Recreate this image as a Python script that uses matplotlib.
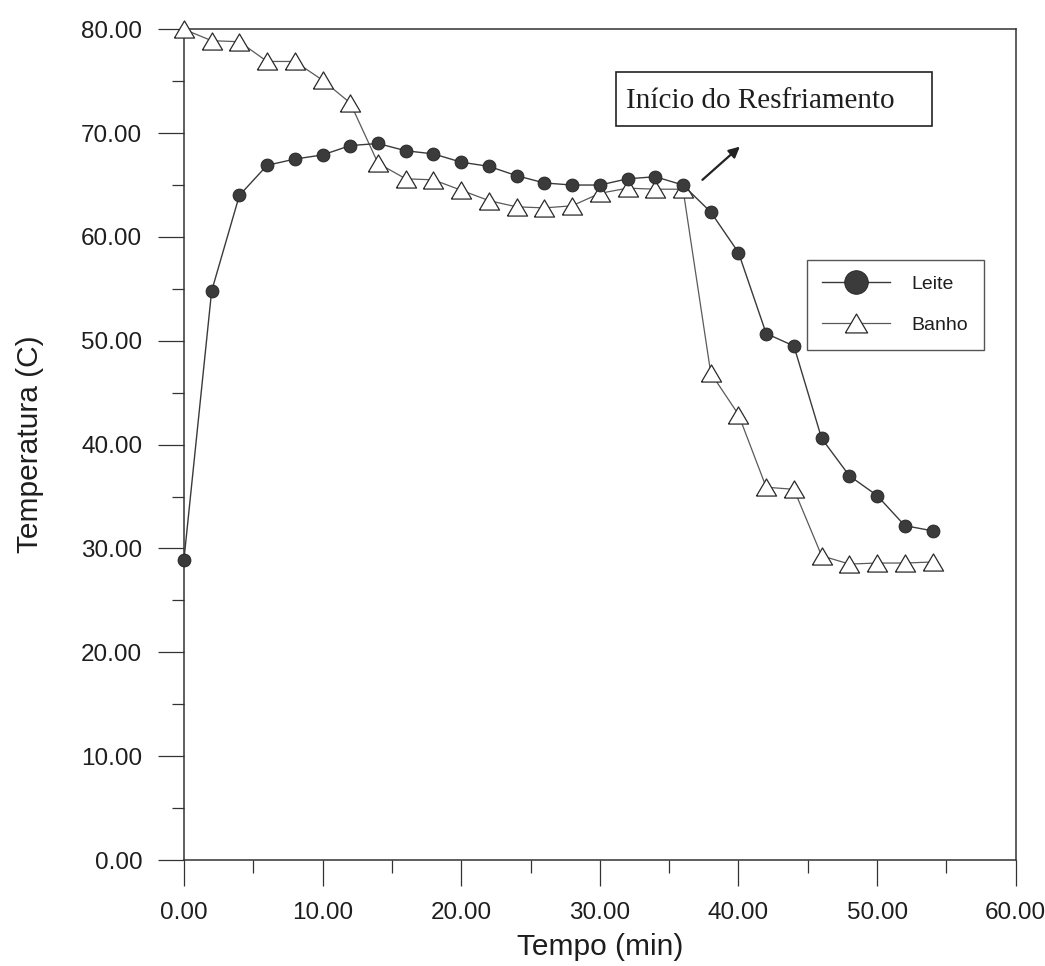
import matplotlib
matplotlib.use("Agg")
import matplotlib.pyplot as plt
from matplotlib.patches import Rectangle
from matplotlib.ticker import MultipleLocator, FormatStrFormatter

plt.rcParams['font.family'] = ['Liberation Sans', 'DejaVu Sans']

# Time (min) and temperatures (C) for the milk and the water bath
tempo_leite = [0, 2, 4, 6, 8, 10, 12, 14, 16, 18, 20, 22, 24, 26,
               28, 30, 32, 34, 36, 38, 40, 42, 44, 46, 48, 50, 52, 54]
leite = [28.9, 54.8, 64.0, 66.9, 67.5, 67.9, 68.8, 69.0, 68.3, 68.0,
         67.2, 66.8, 65.9, 65.2, 65.0, 65.0, 65.6, 65.8, 65.0, 62.4,
         58.5, 50.7, 49.5, 40.6, 37.0, 35.1, 32.2, 31.7]

tempo_banho = [0, 2, 4, 6, 8, 10, 12, 14, 16, 18, 20, 22, 24, 26,
               28, 30, 32, 34, 36, 38, 40, 42, 44, 46, 48, 50, 52, 54]
banho = [80.0, 78.9, 78.8, 76.9, 76.9, 75.1, 72.9, 67.1, 65.6, 65.5,
         64.5, 63.5, 62.9, 62.8, 63.0, 64.2, 64.7, 64.6, 64.6, 46.9,
         42.9, 35.9, 35.7, 29.3, 28.5, 28.6, 28.6, 28.7]

x_label = "Tempo (min)"
y_label = "Temperatura (C)"
nota = "Início do Resfriamento"

fig = plt.figure(figsize=(10.45, 9.66), dpi=100)
ax = fig.add_axes([0.176, 0.1097, 0.796, 0.860])

# wide, slightly flattened open triangle
tri = [(-1, -0.85), (1, -0.85), (0, 0.85), (-1, -0.85)]

ax.plot(tempo_banho, banho, color='#5a5a5a', lw=0.9, marker=tri, ms=14.5,
        mfc='white', mec='#2a2a2a', mew=0.9, label='Banho', clip_on=False,
        zorder=3)
ax.plot(tempo_leite, leite, color='#3a3a3a', lw=1.0, marker='o', ms=9.3,
        mfc='#3b3b3b', mec='#222222', mew=0.6, label='Leite', clip_on=False,
        zorder=4)

ax.set_xlim(0, 60)
ax.set_ylim(0, 80)
ax.xaxis.set_major_locator(MultipleLocator(10))
ax.xaxis.set_minor_locator(MultipleLocator(5))
ax.yaxis.set_major_locator(MultipleLocator(10))
ax.yaxis.set_minor_locator(MultipleLocator(5))
ax.xaxis.set_major_formatter(FormatStrFormatter('%.2f'))
ax.yaxis.set_major_formatter(FormatStrFormatter('%.2f'))

ax.tick_params(which='major', direction='out', length=19, width=0.9,
               color='#333333', labelsize=17.5, labelcolor='#1e1e1e', pad=11)
ax.tick_params(which='minor', direction='out', length=9, width=0.9,
               color='#333333')
for s in ax.spines.values():
    s.set_linewidth(1.1)
    s.set_color('#333333')

ax.set_xlabel(x_label, fontsize=21.5, color='#1e1e1e')
ax.set_ylabel(y_label, fontsize=21.5, color='#1e1e1e')
ax.xaxis.set_label_coords(0.5, -0.088)
ax.yaxis.set_label_coords(-0.168, 0.5)

# legend: Leite first, then Banho
h, l = ax.get_legend_handles_labels()
leg = ax.legend([h[1], h[0]], [l[1], l[0]], loc='upper left',
                bbox_to_anchor=(0.737, 0.734), fontsize=14, frameon=True,
                fancybox=False, framealpha=1, edgecolor='#555555',
                handlelength=3.5, handletextpad=1.1, labelspacing=1.2,
                borderpad=0.8)
leg.get_frame().set_linewidth(1.0)
lh = leg.legend_handles
lh[0].set_markersize(17)
lh[1].set_markersize(16)
for t in leg.get_texts():
    t.set_color('#1e1e1e')

# boxed note with arrow marking the start of cooling
ax.add_patch(Rectangle((0.520, 0.883), 0.379, 0.065, transform=ax.transAxes,
                       fill=False, edgecolor='#222222', lw=1.2, zorder=5))
ax.text(0.532, 0.905, nota, transform=ax.transAxes, ha='left',
        va='baseline', fontsize=21, family=['Liberation Serif'],
        color='#1e1e1e', zorder=6)
ax.annotate('', xy=(40.1, 68.7), xytext=(37.4, 65.5),
            arrowprops=dict(arrowstyle='-|>', color='#222222', lw=1.6,
                            mutation_scale=16, shrinkA=0, shrinkB=0))

fig.savefig('out.png', dpi=100)
